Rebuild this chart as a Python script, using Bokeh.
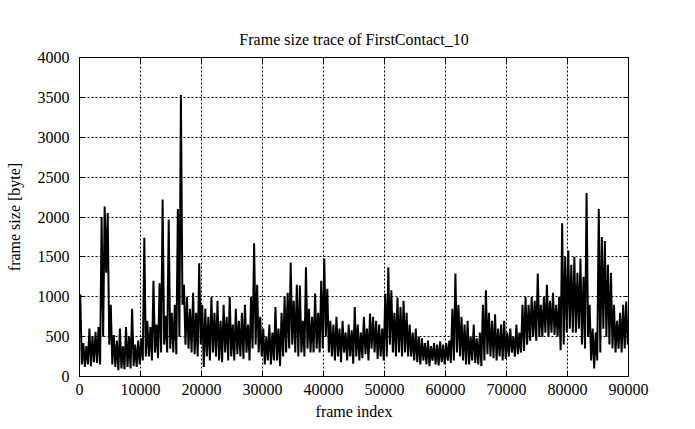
from bokeh.plotting import figure
from bokeh.models import Range1d, FixedTicker, LinearAxis, CustomJSTickFormatter, ColumnDataSource
from bokeh.embed import file_html
from bokeh.resources import INLINE

# ---- data: per 500-frame bin, max and min frame size ----
bin_size = 500
bin_start = list(range(0, 90000, bin_size))

hi = [
    1030, 420, 380, 600, 500, 560, 620, 2000, 2130, 2050,
    900, 520, 450, 600, 380, 620, 500, 850, 400, 450,
    480, 1740, 700, 620, 1200, 650, 1170, 2220, 760, 1970,
    800, 900, 2100, 3530, 1150, 1000, 850, 1050, 800, 1420,
    900, 850, 750, 1000, 800, 950, 700, 900, 750, 1000,
    650, 850, 700, 800, 900, 650, 1000, 1670, 1150, 750,
    600, 500, 650, 550, 870, 600, 800, 1000, 1050, 1430,
    950, 1150, 1140, 700, 1370, 850, 750, 1040, 800, 1200,
    1480, 1100, 700, 650, 750, 600, 700, 550, 650, 580,
    870, 650, 550, 750, 600, 790, 750, 700, 650, 600,
    1040, 1370, 1080, 800, 990, 870, 950, 800, 650, 550,
    600, 500, 480, 420, 450, 380, 420, 400, 440, 400,
    420, 450, 850, 1290, 900, 750, 650, 700, 500, 650,
    480, 550, 900, 1080, 800, 700, 780, 600, 650, 700,
    550, 600, 500, 650, 550, 900, 1000, 900, 1000, 950,
    1290, 900, 1000, 1150, 950, 1050, 900, 1000, 1920, 1500,
    1580, 1400, 1500, 1300, 1480, 1250, 2300, 900, 600, 550,
    2100, 1750, 1700, 1400, 1300, 900, 700, 800, 900, 940,
]
lo = [
    150, 120, 150, 130, 180, 170, 150, 500, 1300, 400,
    150, 120, 80, 100, 90, 120, 100, 130, 120, 150,
    200, 250, 250, 200, 300, 230, 300, 400, 300, 350,
    300, 280, 500, 900, 400, 350, 300, 280, 250, 400,
    120, 250, 200, 300, 250, 200, 180, 300, 200, 250,
    200, 280, 250, 220, 300, 200, 350, 400, 300, 250,
    150, 200, 150, 200, 200, 130, 250, 300, 350, 400,
    300, 250, 300, 250, 350, 300, 300, 350, 300, 350,
    500, 300, 250, 200, 250, 180, 300, 200, 250, 160,
    250, 200, 230, 280, 200, 350, 300, 220, 250, 200,
    250, 400, 300, 250, 300, 250, 300, 250, 250, 200,
    180, 150, 200, 150, 130, 200, 150, 140, 180, 150,
    200, 170, 200, 300, 250, 200, 150, 150, 200, 170,
    150, 130, 200, 280, 250, 230, 200, 250, 200, 220,
    250, 300, 250, 280, 300, 320, 400, 450, 500, 450,
    500, 500, 550, 500, 550, 520, 500, 330, 400, 550,
    600, 550, 550, 600, 400, 350, 500, 200, 100, 200,
    300, 600, 500, 400, 350, 300, 350, 300, 350, 400,
]

x_ticks = list(range(0, 90001, 10000))
y_ticks = list(range(0, 4001, 500))

title_text = "Frame size trace of FirstContact_10"
x_label = "frame index"
y_label = "frame size [byte]"

# build the dense trace: max then min inside each bin
xs, ys = [], []
for b, h, l in zip(bin_start, hi, lo):
    xs.append(b + bin_size * 0.25)
    ys.append(h)
    xs.append(b + bin_size * 0.75)
    ys.append(l)
src = ColumnDataSource(dict(x=xs, y=ys))

FONT = "Liberation Serif"
FS = "16px"

p = figure(width=695, height=429, output_backend="svg", toolbar_location=None,
           x_range=Range1d(0, 90000), y_range=Range1d(0, 4000),
           min_border_left=79, min_border_right=67, min_border_top=57, min_border_bottom=53,
           background_fill_color="white", border_fill_color="white")

p.line("x", "y", source=src, line_color="black", line_width=2)

p.title.text = title_text
p.title.align = "center"
p.title.text_font = FONT
p.title.text_font_size = FS
p.title.text_font_style = "normal"
p.title.text_color = "black"
p.title.standoff = 20

p.outline_line_color = "black"
p.outline_line_width = 1
p.outline_line_alpha = 1

def style_axis(ax, ticks, show_labels=True):
    ax.ticker = FixedTicker(ticks=ticks)
    ax.major_tick_in = 5
    ax.major_tick_out = 0
    ax.minor_tick_line_color = None
    ax.major_tick_line_color = "black"
    ax.axis_line_color = "black"
    ax.major_label_text_font = FONT
    ax.major_label_text_font_size = FS
    ax.major_label_text_color = "black"
    ax.axis_label_text_font = FONT
    ax.axis_label_text_font_size = FS
    ax.axis_label_text_font_style = "normal"
    ax.axis_label_text_color = "black"
    if not show_labels:
        ax.formatter = CustomJSTickFormatter(code="return '';")

style_axis(p.xaxis[0], x_ticks)
style_axis(p.yaxis[0], y_ticks)
p.xaxis[0].axis_label = x_label
p.yaxis[0].axis_label = y_label
p.xaxis[0].major_label_standoff = 7
p.yaxis[0].major_label_standoff = 10
p.xaxis[0].axis_label_standoff = 5
p.yaxis[0].axis_label_standoff = 12

top_ax = LinearAxis()
right_ax = LinearAxis()
style_axis(top_ax, x_ticks, show_labels=False)
style_axis(right_ax, y_ticks, show_labels=False)
p.add_layout(top_ax, "above")
p.add_layout(right_ax, "right")

for g, ticks in ((p.xgrid[0], x_ticks), (p.ygrid[0], y_ticks)):
    g.ticker = FixedTicker(ticks=ticks)
    g.grid_line_color = "black"
    g.grid_line_dash = "2 2"
    g.grid_line_width = 1
    g.grid_line_alpha = 1

open("out.html", "w").write(file_html(p, INLINE))
